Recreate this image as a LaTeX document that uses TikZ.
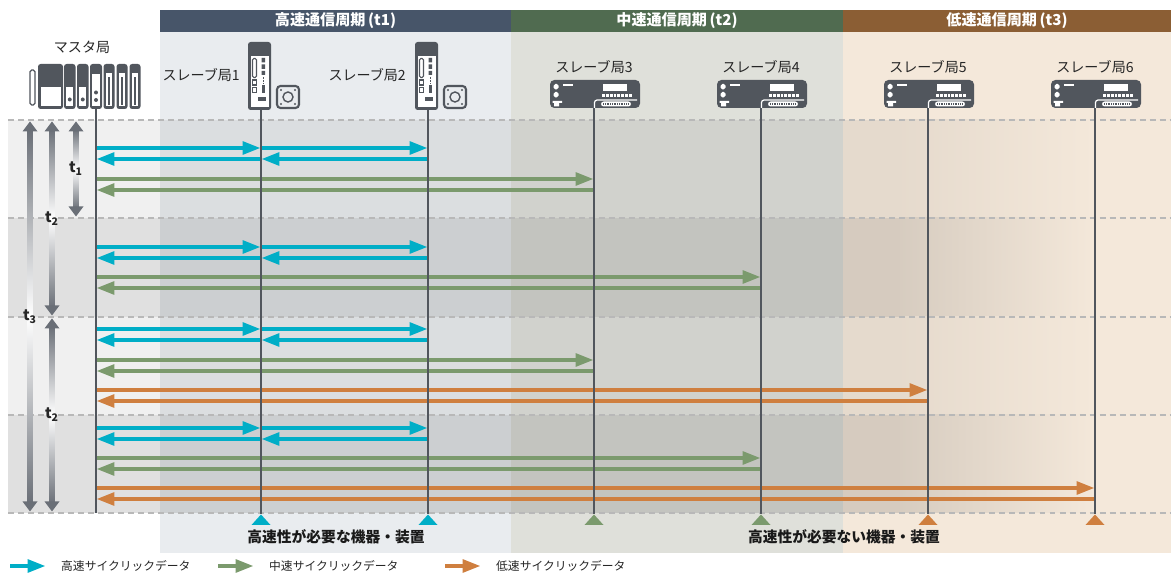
\documentclass[tikz,border=0pt]{standalone}
\usepackage{fontspec}
\setmainfont{Noto Sans CJK JP}
\usetikzlibrary{arrows.meta,calc}

\definecolor{hdr-hs}{HTML}{475569}
\definecolor{hdr-ms}{HTML}{506B50}
\definecolor{hdr-ls}{HTML}{8B5E34}
\definecolor{bg-hs}{HTML}{E9ECEF}
\definecolor{bg-ms}{HTML}{DFE0DA}
\definecolor{bg-ls}{HTML}{F4E8DA}
\definecolor{c-hs}{HTML}{00AEC7}
\definecolor{c-ms}{HTML}{7B9A6D}
\definecolor{c-ls}{HTML}{CF7F3F}
\definecolor{dev}{HTML}{51565D}
\definecolor{tgray}{HTML}{6A6F77}

\begin{document}
\begin{tikzpicture}[x=0.02cm, y=-0.02cm,
    font=\fontsize{8}{9.6}\selectfont,
    hs/.style={draw=c-hs, line width=2.8pt, -{Triangle[length=10.5pt,width=7pt]}},
    ms/.style={hs, draw=c-ms},
    ls/.style={hs, draw=c-ls},
    life/.style={draw=dev, line width=0.75pt},
    sepline/.style={draw=black!28, line width=0.7pt, dash pattern=on 3.4pt off 2.3pt},
    hdr/.style={text=white, font=\fontsize{8.6}{10}\selectfont\bfseries},
    grp/.style={text=black!90, font=\fontsize{8.4}{10}\selectfont\bfseries},
    leg/.style={anchor=west, text=black!85, font=\fontsize{6.7}{8}\selectfont},
    lbl/.style={text=black!85},
    tlab/.style={text=black!85, font=\fontsize{8.5}{10}\selectfont\bfseries, inner sep=0.5pt}]

  \useasboundingbox (0,0) rectangle (1171,573);
  \fill[white] (0,0) rectangle (1171,573);

  % station lifelines
  \foreach \n/\x in {0/96,1/261,2/428,3/594,4/761,5/928,6/1095}
    \coordinate (L\n) at (\x,0);

  % period columns
  \fill[hdr-hs] (160,10) rectangle (511,32);
  \fill[hdr-ms] (511,10) rectangle (843,32);
  \fill[hdr-ls] (843,10) rectangle (1171,32);
  \fill[bg-hs] (160,32) rectangle (511,553);
  \fill[bg-ms] (511,32) rectangle (843,553);
  \fill[bg-ls] (843,32) rectangle (1171,553);
  \node[hdr] (h1) at (335.5,21) {高速通信周期\,(t1)};
  \node[hdr] (h2) at (677,21) {中速通信周期\,(t2)};
  \node[hdr] (h3) at (1007,21) {低速通信周期\,(t3)};

  % cycle bands
  \foreach \a/\b/\o/\k in {120/218/0.06/94, 218/317/0.12/88, 317/415/0.06/94, 415/513/0.12/88}{
    \fill[black, fill opacity=\o] (8,\a) rectangle (900,\b);
    \shade[left color=bg-ls!\k!black, right color=bg-ls] (900,\a) rectangle (1095,\b);
  }
  \foreach \y in {120,218,317,415,513}
    \draw[sepline] (8,\y) -- (1171,\y);

  % high-speed cyclic data, every t1
  \foreach \y in {148,247,329,428}{
    \draw[hs] ($(L0)+(0,\y)$) -- ($(L1)+(0,\y)$);
    \draw[hs] ($(L1)+(0,\y)$) -- ($(L2)+(0,\y)$);
    \draw[hs] ($(L1)+(0,\y+11)$) -- ($(L0)+(0,\y+11)$);
    \draw[hs] ($(L2)+(0,\y+11)$) -- ($(L1)+(0,\y+11)$);
  }
  % mid-speed: slave 3 and 4 take turns
  \foreach \y/\s in {179/3,277/4,360/3,458/4}{
    \draw[ms] ($(L0)+(0,\y)$) -- ($(L\s)+(0,\y)$);
    \draw[ms] ($(L\s)+(0,\y+11)$) -- ($(L0)+(0,\y+11)$);
  }
  % low-speed: slave 5 and 6
  \foreach \y/\s in {390/5,488/6}{
    \draw[ls] ($(L0)+(0,\y)$) -- ($(L\s)+(0,\y)$);
    \draw[ls] ($(L\s)+(0,\y+11)$) -- ($(L0)+(0,\y+11)$);
  }

  % lifelines and markers
  \draw[life] ($(L0)+(0,109)$) -- ($(L0)+(0,513)$);
  \foreach \n/\t/\c in {1/110/c-hs,2/110/c-hs,3/108/c-ms,4/108/c-ms,5/108/c-ls,6/108/c-ls}{
    \draw[life] ($(L\n)+(0,\t)$) -- ($(L\n)+(0,514)$);
    \fill[\c] ($(L\n)+(0,514.5)$) -- ++(-9.5,10.5) -- ++(19,0) -- cycle;
  }

  % master station (rack)
  \begin{scope}[dev]
    \draw[line width=0.7pt, rounded corners=1pt] (30,70) rectangle (35,105);
    \fill[rounded corners=1.5pt] (38,64) rectangle (63,109);
    \fill[white] (40.5,87) rectangle (60.5,106.5);
    \foreach \x in {64,77}{
      \fill[rounded corners=1.5pt] (\x,64) rectangle (\x+11.5,109);
      \fill[white] (\x+2.3,87) rectangle (\x+9.2,106.5);
      \fill (\x+5.75,99.5) circle (2);
    }
    \fill[rounded corners=1.5pt] (90,64) rectangle (102,109);
    \fill[white] (92.3,74) rectangle (99.7,106.5);
    \fill (96,92.5) circle (2) (96,100) circle (2);
    \foreach \x in {103.5,116.5,129.5}{
      \fill[rounded corners=1.5pt] (\x,64) rectangle (\x+11,109);
      \fill[white] (\x+2.3,73) rectangle (\x+8.7,106.5);
      \fill (\x+4.2,77) rectangle (\x+6.8,105);
    }
  \end{scope}

  % servo amps with motor
  \foreach \x in {261,428}{
    \begin{scope}[shift={(\x,0)}, dev]
      \fill[rounded corners=1.5pt] (-13,42) rectangle (10,110);
      \fill[white] (-10.5,56) rectangle (7.5,107.5);
      \draw[line width=0.6pt, rounded corners=0.8pt] (-8.5,58.5) rectangle (-4.5,77.5);
      \draw[line width=0.6pt] (-8.5,80) rectangle (-4.5,85) (-8.5,87.5) rectangle (-4.5,92.5);
      \fill (0.5,58) rectangle (4,62.5) (0.5,64.5) rectangle (4,69) (0.5,71) rectangle (4,75);
      \draw[line width=0.8pt, dash pattern=on 1pt off 0.8pt] (2.25,77) -- (2.25,84);
      \fill (0.5,85) rectangle (4,93);
      \fill (-3,97.5) rectangle (5,101.5);
      \draw[line width=1.2pt, rounded corners=2pt] (16,86) rectangle (38,108);
      \draw[line width=0.8pt] (27,97) circle (5);
      \foreach \u/\v in {20/90,34/90,20/104,34/104}
        \fill (\u,\v) circle (1.2);
    \end{scope}
  }

  % remote I/O units
  \foreach \x in {594,761,928,1095}{
    \begin{scope}[shift={(\x,0)}]
      \fill[dev, rounded corners=2.5pt] (-44,80) rectangle (46,108);
      \fill[white, rounded corners=1pt] (-40.5,84) rectangle (-35.5,89.5) (-40.5,92) rectangle (-35.5,97.5);
      \fill[white] (-31,84) rectangle (-21,86.5);
      \fill[white] (-41.5,101) rectangle (-32,103) (-40,103) rectangle (-35,106.5);
      \fill[white] (9,84) rectangle (33,91);
      \draw[white, line width=1.3pt, dash pattern=on 1.6pt off 0.6pt] (8,95.5) -- (38,95.5);
      \draw[white, line width=0.7pt, rounded corners=1.5pt] (0.5,108) -- (0.5,100) -- (43,100);
      \fill[white, rounded corners=1.5pt] (7,101.5) rectangle (37,106.5);
      \draw[dev, line width=1.5pt, dash pattern=on 0.5pt off 0.5pt] (9,104) -- (35,104);
    \end{scope}
  }

  % station names
  \node[lbl] (m) at (82,47) {マスタ局};
  \node[lbl, anchor=east] (s1) at (246,75) {スレーブ局1};
  \node[lbl, anchor=east] (s2) at (412,75) {スレーブ局2};
  \foreach \n in {3,4,5,6}
    \node[lbl] (s\n) at ($(L\n)+(0,67)$) {スレーブ局\n};

  % cycle times
  \foreach \x/\a/\b/\t in {76/120/218/1, 52/120/317/2, 52/317/513/2, 30/120/513/3}{
    \pgfmathsetmacro\c{(\a+\b)/2}
    \shade[top color=tgray, bottom color=white] (\x-2.5,\a+9) rectangle (\x+2.5,\c);
    \shade[top color=white, bottom color=tgray] (\x-2.5,\c) rectangle (\x+2.5,\b-9);
    \fill[tgray] (\x,\a+1.5) -- (\x-7.5,\a+11.5) -- (\x+7.5,\a+11.5) -- cycle;
    \fill[tgray] (\x,\b-1.5) -- (\x-7.5,\b-11.5) -- (\x+7.5,\b-11.5) -- cycle;
    \node[tlab] (t\t) at (\x,\c) {t\textsubscript{\t}};
  }

  % device groups
  \node[grp] (fast) at (336,537) {高速性が必要な機器・装置};
  \node[grp] (slow) at (844,537) {高速性が必要ない機器・装置};

  % legend
  \node[leg] (lg1) at (55,566) {高速サイクリックデータ};
  \node[leg] (lg2) at (263,566) {中速サイクリックデータ};
  \node[leg] (lg3) at (490,566) {低速サイクリックデータ};
  \draw[hs] ($(lg1.west)+(-45,0)$) -- ($(lg1.west)+(-9,0)$);
  \draw[ms] ($(lg2.west)+(-45,0)$) -- ($(lg2.west)+(-9,0)$);
  \draw[ls] ($(lg3.west)+(-45,0)$) -- ($(lg3.west)+(-9,0)$);
\end{tikzpicture}
\end{document}
